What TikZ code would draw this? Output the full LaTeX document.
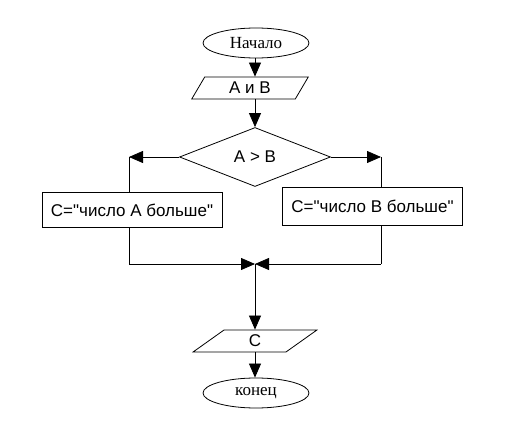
\documentclass[tikz,border=0pt]{standalone}
\usepackage{fontspec}
\setmainfont{Liberation Serif}
\newfontfamily\arialfont{Liberation Sans}
\usetikzlibrary{shapes.geometric,arrows.meta}
\begin{document}
\begin{tikzpicture}[x=1pt,y=-1pt,
  line width=0.8pt,
  termbox/.style={draw,ellipse,minimum width=106pt,minimum height=30pt,inner sep=0pt,font=\fontsize{17}{19}\selectfont},
  iobox/.style={draw,trapezium,trapezium left angle=63,trapezium right angle=117,trapezium stretches=true,minimum height=22pt,inner sep=0pt,font=\arialfont\fontsize{17}{19}\selectfont},
  procbox/.style={draw,rectangle,minimum width=180pt,inner sep=0pt,font=\arialfont\fontsize{17}{19}\selectfont},
  decbox/.style={draw,diamond,minimum width=151pt,minimum height=59pt,aspect=2.56,inner sep=0pt,font=\arialfont\fontsize{17}{19}\selectfont},
  flow/.style={-{Triangle[length=14pt,width=12pt]}}
]
\useasboundingbox (0,0) rectangle (507,441);
\node[termbox] (start) at (256,43) {Начало};
\node[iobox,minimum width=117pt] (io1) at (250,88) {А и В};
\node[decbox] (dec) at (255,157) {А > В};
\node[procbox,minimum height=35pt] (boxA) at (132,210) {С="число А больше"};
\node[procbox,minimum height=38pt] (boxB) at (372.5,206) {С="число В больше"};
\node[iobox,minimum width=124pt] (io2) at (255,341) {С};
\node[termbox] (end) at (256,393) {конец};
\coordinate (L) at (129,157);
\coordinate (R) at (381,157);
\coordinate (M) at (255,264);
\coordinate (LB) at (129,264);
\coordinate (RB) at (381,264);

\draw[flow] (start.south -| dec.north) -- (dec.north |- io1.north);
\draw[flow] (dec.north |- io1.south) -- (dec.north);
\draw[flow] (dec.west) -- (L);
\draw (L) -- (L |- boxA.north);
\draw[flow] (dec.east) -- (R);
\draw (R) -- (R |- boxB.north);
\draw (L |- boxA.south) -- (LB);
\draw[flow] (LB) -- (M);
\draw (R |- boxB.south) -- (RB);
\draw[flow] (RB) -- (M);
\draw[flow] (M) -- (M |- io2.north);
\draw[flow] (M |- io2.south) -- (M |- end.north);
\end{tikzpicture}
\end{document}
